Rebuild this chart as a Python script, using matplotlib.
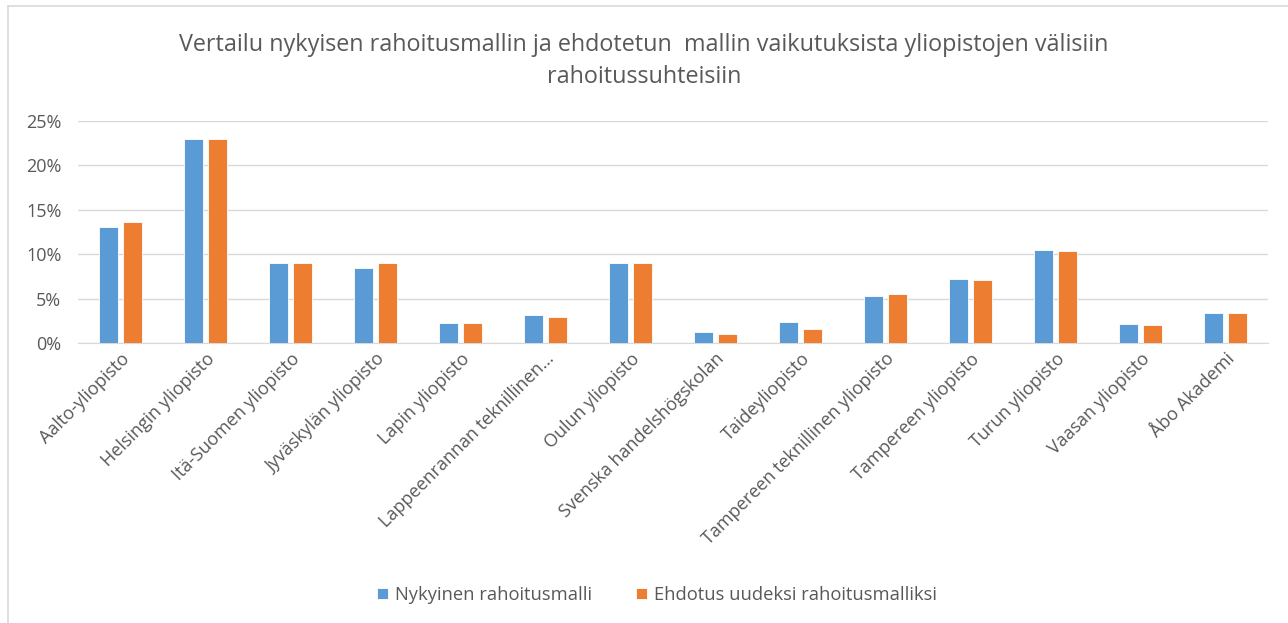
import matplotlib
matplotlib.use("Agg")
import matplotlib.pyplot as plt
import numpy as np
from matplotlib.ticker import FuncFormatter
from matplotlib.lines import Line2D

categories = ["Aalto-yliopisto", "Helsingin yliopisto", "Itä-Suomen yliopisto",
              "Jyväskylän yliopisto", "Lapin yliopisto", "Lappeenrannan teknillinen…",
              "Oulun yliopisto", "Svenska handelshögskolan", "Taideyliopisto",
              "Tampereen teknillinen yliopisto", "Tampereen yliopisto", "Turun yliopisto",
              "Vaasan yliopisto", "Åbo Akademi"]
nykyinen = [0.1304, 0.2294, 0.0896, 0.0840, 0.0221, 0.0315, 0.0896, 0.0120, 0.0240,
            0.0528, 0.0723, 0.1049, 0.0217, 0.0334]
ehdotus = [0.1360, 0.2294, 0.0896, 0.0896, 0.0221, 0.0296, 0.0896, 0.0101, 0.0161,
           0.0547, 0.0705, 0.1031, 0.0199, 0.0334]
series_names = ["Nykyinen rahoitusmalli", "Ehdotus uudeksi rahoitusmalliksi"]
title = "Vertailu nykyisen rahoitusmallin ja ehdotetun  mallin vaikutuksista yliopistojen välisiin\nrahoitussuhteisiin"

plt.rcParams['font.family'] = ['Open Sans', 'DejaVu Sans']
gray = "#595959"

fig = plt.figure(figsize=(12.88, 6.23), dpi=100)
# chart frame (only top and left edges visible in the crop)
fig.add_artist(Line2D([8/1288, 8/1288], [0, 1-6/623], transform=fig.transFigure,
                      color="#d9d9d9", linewidth=1.2))
fig.add_artist(Line2D([8/1288, 1], [1-6/623, 1-6/623], transform=fig.transFigure,
                      color="#d9d9d9", linewidth=1.2))
ax = fig.add_axes([78/1288, 1-343/623, 1190/1288, 222/623])

x = np.arange(len(categories))
w = 0.225
ax.bar(x - 0.142, nykyinen, w, color="#5B9BD5", edgecolor="#ffffff", linewidth=0.6,
       label=series_names[0], zorder=3)
ax.bar(x + 0.142, ehdotus, w, color="#ED7D31", edgecolor="#ffffff", linewidth=0.6,
       label=series_names[1], zorder=3)

ax.set_xlim(-0.5, len(categories) - 0.5)
ax.set_ylim(0, 0.25)
ax.set_yticks(np.arange(0, 0.2501, 0.05))
ax.yaxis.set_major_formatter(FuncFormatter(lambda v, p: f"{v*100:.0f}%"))
ax.grid(axis='y', color="#d9d9d9", linewidth=1, zorder=0)
for s in ["top", "right", "left"]:
    ax.spines[s].set_visible(False)
ax.spines["bottom"].set_color("#d9d9d9")
ax.tick_params(axis='both', length=0, colors=gray, labelsize=13)
ax.tick_params(axis='y', pad=12)
ax.tick_params(axis='x', pad=5)
ax.set_xticks(x)
ax.set_xticklabels(categories, rotation=45, ha='right', rotation_mode='anchor')
for t in ax.get_xticklabels():
    t.set_color(gray)

fig.text(0.5, 1-61/623, title, ha='center', va='center', fontsize=16.8, color=gray,
         linespacing=1.45)

leg = fig.legend(loc='center', bbox_to_anchor=(657/1288, 1-595/623), ncol=2, frameon=False,
                 fontsize=13.2, handlelength=0.6, handleheight=0.6, columnspacing=2.4,
                 handletextpad=0.4)
for t in leg.get_texts():
    t.set_color(gray)

fig.savefig("out.png", dpi=100)
